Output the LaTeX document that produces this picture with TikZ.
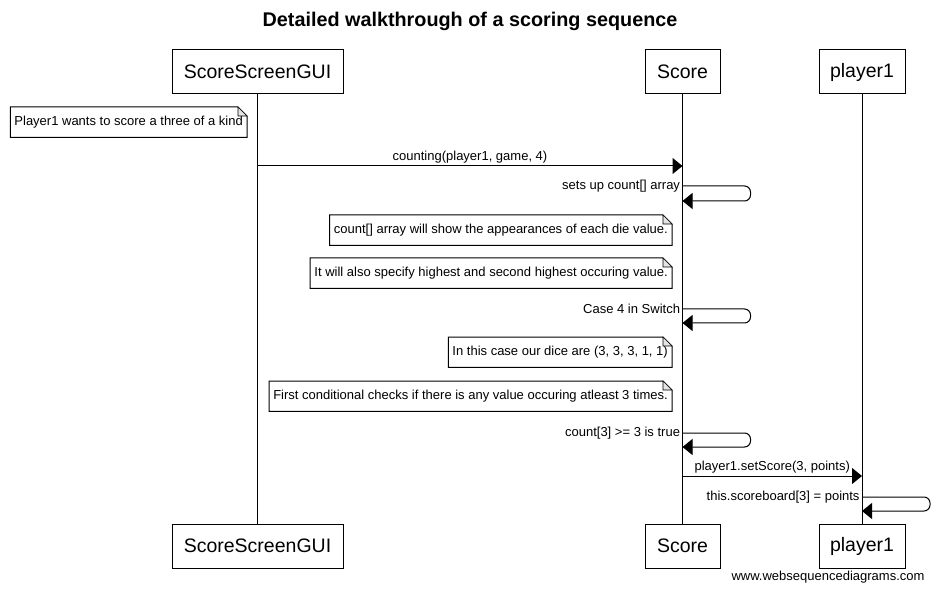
\documentclass[tikz,border=0pt]{standalone}
\usepackage{fontspec}
\setmainfont{Liberation Sans}
\usetikzlibrary{arrows.meta,positioning}
\definecolor{foldgray}{HTML}{E4E4E4}
\tikzset{
  actor/.style={draw=black,fill=white,line width=1pt,minimum height=44pt,
    font=\fontsize{19.5}{22}\selectfont},
  lifeline/.style={draw=black,line width=1pt},
  message/.style={draw=black,line width=1pt,-{Triangle[length=10pt,width=16pt]}},
  self message/.style={message,rounded corners=6pt},
  msg label/.style={font=\fontsize{13}{15}\selectfont,inner sep=2pt},
  note/.style={minimum height=30pt,inner xsep=4pt,anchor=north east,
    font=\fontsize{13}{15}\selectfont},
  note edge/.style={draw=black,line width=1pt},
  fold/.style={draw=black,fill=foldgray,line width=0.6pt}
}

\begin{document}
\begin{tikzpicture}[x=1pt,y=-1pt]
  \fill[white] (0,0) rectangle (939,593);
  \useasboundingbox (0,0) rectangle (939,593);
  \node[font=\fontsize{19.8}{22}\selectfont\bfseries] (title) at (470,21)
    {Detailed walkthrough of a scoring sequence};
  % actors, top and bottom
  \node[actor,minimum width=171pt] (guiT) at (257.5,72) {ScoreScreenGUI};
  \node[actor,minimum width=75pt] (scoreT) at (682.5,72) {Score};
  \node[actor,minimum width=86pt] (playerT) at (862,72) {player1};
  \node[actor,minimum width=171pt] (guiB) at (257.5,546) {ScoreScreenGUI};
  \node[actor,minimum width=75pt] (scoreB) at (682.5,546) {Score};
  \node[actor,minimum width=86pt] (playerB) at (862,546) {player1};
  \foreach \a in {gui,score,player}
    \draw[lifeline] (\a T) -- (\a B);
  % notes
  \node[note] (n1) at (247,107) {Player1 wants to score a three of a kind};
  \node[note] (n2) at (672,215) {count[] array will show the appearances of each die value.};
  \node[note] (n3) at (672,258) {It will also specify highest and second highest occuring value.};
  \node[note] (n4) at (672,337) {In this case our dice are (3, 3, 3, 1, 1)};
  \node[note] (n5) at (672,381) {First conditional checks if there is any value occuring atleast 3 times.};
  \foreach \n in {n1,n2,n3,n4,n5}{
    \draw[note edge] ([xshift=-9pt]\n.north east) -- (\n.north west) -- (\n.south west)
      -- (\n.south east) -- ([yshift=-9pt]\n.north east) -- cycle;
    \draw[fold] ([xshift=-9pt]\n.north east) -- ([xshift=-9pt,yshift=-9pt]\n.north east)
      -- ([yshift=-9pt]\n.north east) -- cycle;
  }
  % messages
  \draw[message] (guiT |- 0,166) -- (scoreT |- 0,166)
    node[msg label,midway,above] {counting(player1, game, 4)};
  \draw[self message] (scoreT |- 0,186) node[msg label,left] {sets up count[] array}
    -- ++(68,0) -- ++(0,15) -- ++(-68,0);
  \draw[self message] (scoreT |- 0,309) node[msg label,left] {Case 4 in Switch}
    -- ++(68,0) -- ++(0,14) -- ++(-68,0);
  \draw[self message] (scoreT |- 0,433) node[msg label,left] {count[3] >= 3 is true}
    -- ++(68,0) -- ++(0,14) -- ++(-68,0);
  \draw[message] (scoreT |- 0,476) -- (playerT |- 0,476)
    node[msg label,midway,above] {player1.setScore(3, points)};
  \draw[self message] (playerT |- 0,497) node[msg label,left] {this.scoreboard[3] = points}
    -- ++(68,0) -- ++(0,14) -- ++(-68,0);
  \node[font=\fontsize{13}{15}\selectfont,anchor=east] (site) at (928,577)
    {www.websequencediagrams.com};
\end{tikzpicture}
\end{document}
